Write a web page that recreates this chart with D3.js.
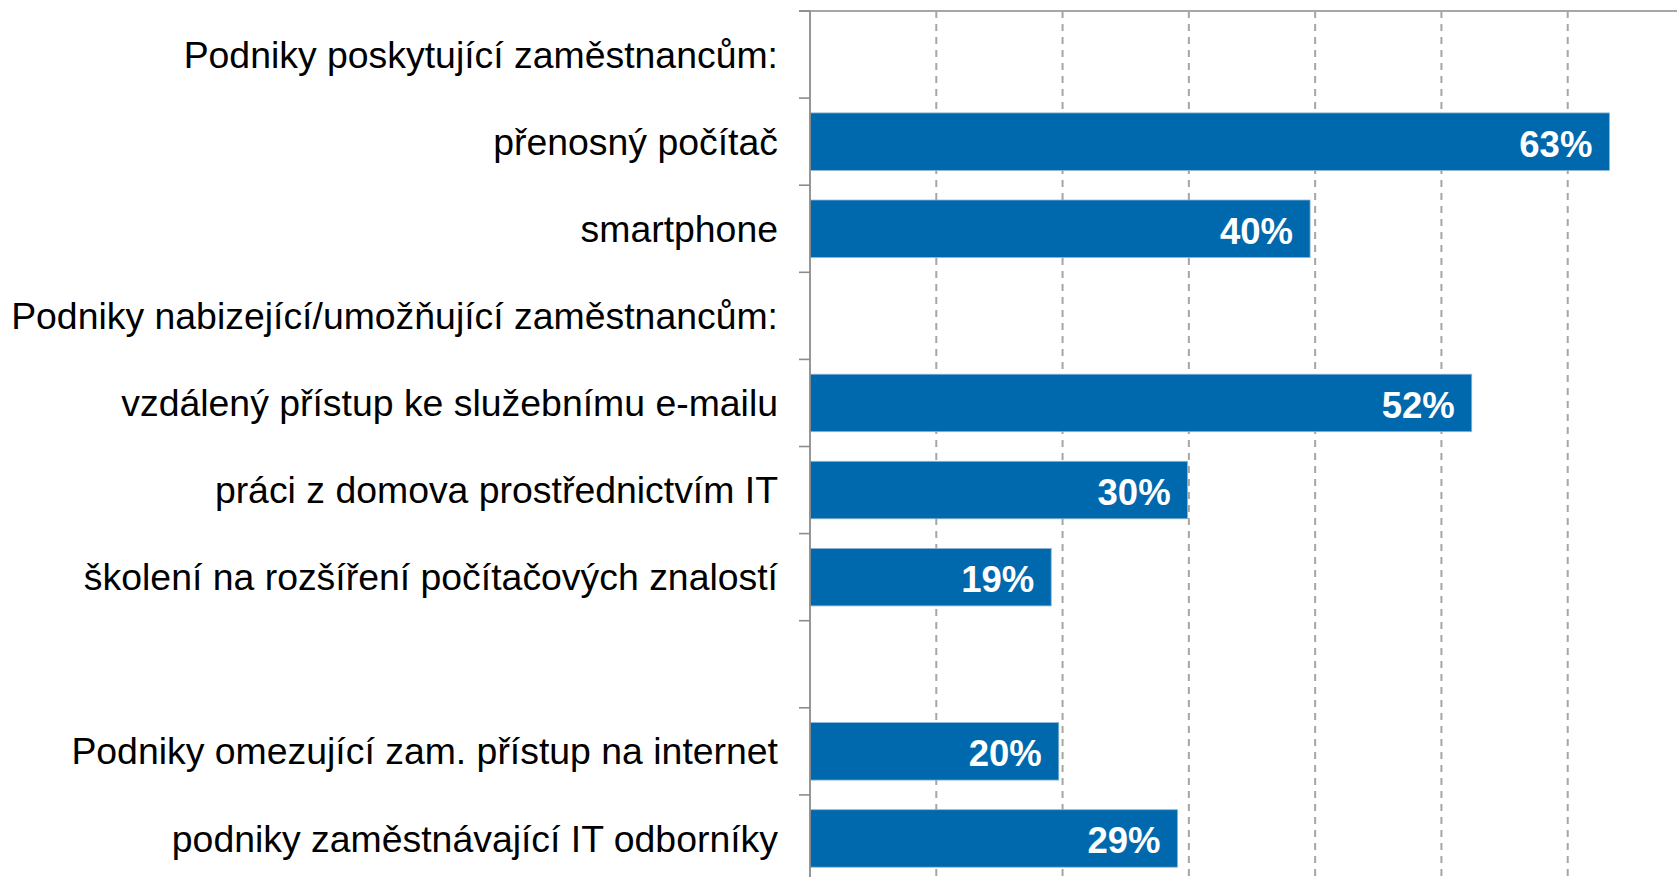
<!DOCTYPE html>
<html>
<head>
<meta charset="utf-8">
<script src="https://cdn.jsdelivr.net/npm/d3@7"></script>
<style>
  html, body { margin: 0; padding: 0; background: #fff; overflow: hidden; }
  svg { display: block; font-family: "Liberation Sans", Arial, sans-serif; }
</style>
</head>
<body>
<svg id="chart" width="1677" height="877"></svg>
<script>
// řádky grafu shora dolů (prázdný řetězec = mezera)
const categories = [
  'Podniky poskytující zaměstnancům:',
  'přenosný počítač',
  'smartphone',
  'Podniky nabizející/umožňující zaměstnancům:',
  'vzdálený přístup ke služebnímu e-mailu',
  'práci z domova prostřednictvím IT',
  'školení na rozšíření počítačových znalostí',
  '',
  'Podniky omezující zam. přístup na internet',
  'podniky zaměstnávající IT odborníky'
];
// podíl podniků v % (null = nadpis / mezera bez sloupce)
const values = [null, 63.3, 39.6, null, 52.4, 29.9, 19.1, null, 19.7, 29.1];
const xTicks = [0, 10, 20, 30, 40, 50, 60, 70];

const BAR = '#0069AD';
const GRID = '#a6a6a6';
const AXIS = '#8c8c8c';

const W = 1677, H = 877;
const X0 = 810, X1 = 1694, Y0 = 11, Y1 = 882;

const svg = d3.select('#chart');

const x = d3.scaleLinear().domain([0, 70]).range([X0, X1]);
const y = d3.scaleBand()
  .domain(d3.range(categories.length))
  .range([Y0, Y1])
  .paddingInner(0.34).paddingOuter(0.17);
const step = y.step();

// svislá mřížka (čárkovaně)
svg.append('g').selectAll('line')
  .data(xTicks.filter(d => d > 0)).join('line')
  .attr('x1', d => x(d)).attr('x2', d => x(d))
  .attr('y1', Y0).attr('y2', H)
  .attr('stroke', GRID).attr('stroke-width', 2)
  .attr('stroke-dasharray', '7,6');

// horní okraj plochy
svg.append('line')
  .attr('x1', X0 - 11).attr('x2', W).attr('y1', Y0).attr('y2', Y0)
  .attr('stroke', GRID).attr('stroke-width', 2);

// sloupce
const rows = categories.map((c, i) => ({ c, i, v: values[i] }));
const bars = rows.filter(d => d.v != null);

svg.append('g').selectAll('rect')
  .data(bars).join('rect')
  .attr('x', x(0))
  .attr('y', d => y(d.i))
  .attr('width', d => x(d.v) - x(0))
  .attr('height', y.bandwidth())
  .attr('fill', BAR)
  .attr('stroke', '#8fb6d6').attr('stroke-width', 0.8);

// hodnoty ve sloupcích
svg.append('g').selectAll('text')
  .data(bars).join('text')
  .text(d => Math.round(d.v) + '%')
  .attr('x', d => x(d.v) - 17)
  .attr('y', d => y(d.i) + y.bandwidth() / 2)
  .attr('dy', '0.41em')
  .attr('text-anchor', 'end')
  .attr('fill', '#fff')
  .attr('font-weight', 700)
  .style('font-size', '36.5px');

// osa y: čára + značky na hranicích řádků
svg.append('line')
  .attr('x1', X0).attr('x2', X0).attr('y1', Y0).attr('y2', H)
  .attr('stroke', AXIS).attr('stroke-width', 1.8);
svg.append('g').selectAll('line')
  .data(d3.range(categories.length + 1)).join('line')
  .attr('x1', X0 - 11).attr('x2', X0)
  .attr('y1', i => Y0 + i * step).attr('y2', i => Y0 + i * step)
  .attr('stroke', AXIS).attr('stroke-width', 1.6);

// popisky kategorií
svg.append('g').selectAll('text')
  .data(rows.filter(d => d.c)).join('text')
  .text(d => d.c)
  .attr('x', X0 - 32)
  .attr('y', d => Y0 + d.i * step + step / 2)
  .attr('dy', '0.35em')
  .attr('text-anchor', 'end')
  .attr('fill', '#000')
  .style('font-size', '37.4px');
</script>
</body>
</html>
